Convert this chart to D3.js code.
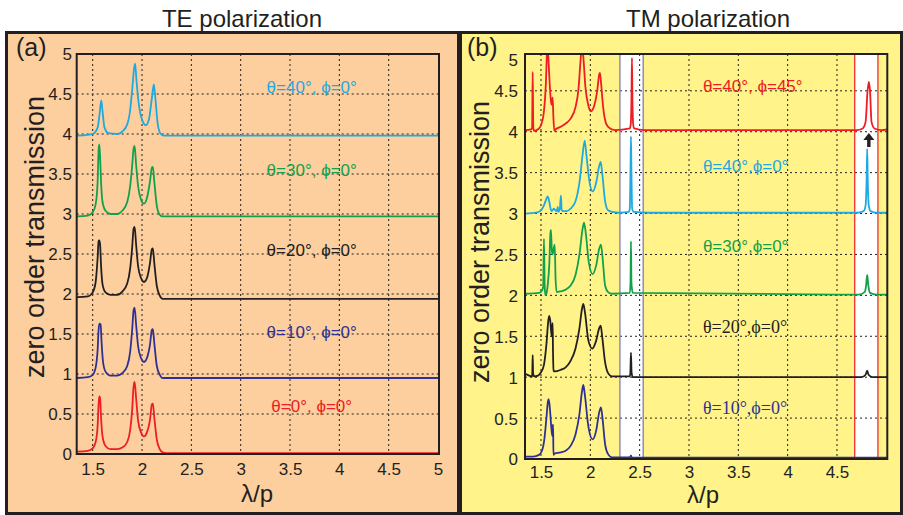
<!DOCTYPE html>
<html><head><meta charset="utf-8">
<script src="https://cdn.jsdelivr.net/npm/d3@7"></script>
<style>
body{margin:0;background:#fff}
</style>
</head><body>
<svg id="c" width="903" height="515" font-family="Liberation Sans, Arial, Helvetica, sans-serif"></svg>
<script>
// ---------------- DATA ----------------
const panelTitles = ["TE polarization", "TM polarization"];
const panelTags = ["(a)", "(b)"];
const xTicksA = [1.5, 2, 2.5, 3, 3.5, 4, 4.5, 5];
const xTicksB = [1.5, 2, 2.5, 3, 3.5, 4, 4.5];
const yTicks = [0, 0.5, 1, 1.5, 2, 2.5, 3, 3.5, 4, 4.5, 5];
const xLabel = "λ/p";
const yLabel = "zero order transmission";

// TE polarization (panel a)
const teLabels = ["θ=40°, ϕ=0°", "θ=30°, ϕ=0°", "θ=20°, ϕ=0°", "θ=10°, ϕ=0°", "θ=0°, ϕ=0°"];
const te40 = [[1.34,3.98],[1.45,3.99],[1.50,4.00],[1.55,4.08],[1.57,4.25],[1.587,4.42],[1.60,4.28],[1.62,4.08],[1.66,4.01],[1.75,4.00],[1.80,4.03],[1.85,4.12],[1.88,4.30],[1.90,4.55],[1.92,4.82],[1.93,4.88],[1.945,4.65],[1.97,4.35],[2.00,4.18],[2.04,4.11],[2.07,4.18],[2.10,4.45],[2.12,4.62],[2.135,4.45],[2.16,4.12],[2.19,4.00],[2.22,3.98],[5.0,3.98]];
const te30 = [[1.34,2.97],[1.45,2.98],[1.50,3.02],[1.53,3.12],[1.55,3.40],[1.56,3.80],[1.567,3.87],[1.575,3.72],[1.585,3.40],[1.60,3.15],[1.63,3.04],[1.68,3.00],[1.75,3.00],[1.80,3.04],[1.85,3.15],[1.88,3.35],[1.90,3.60],[1.915,3.82],[1.925,3.85],[1.94,3.62],[1.96,3.35],[1.99,3.18],[2.02,3.13],[2.05,3.20],[2.08,3.40],[2.10,3.58],[2.11,3.59],[2.125,3.40],[2.15,3.10],[2.18,2.99],[2.21,2.97],[5.0,2.97]];
const te20 = [[1.34,1.96],[1.45,1.97],[1.50,2.02],[1.53,2.15],[1.55,2.45],[1.56,2.66],[1.567,2.67],[1.575,2.62],[1.585,2.35],[1.60,2.12],[1.63,2.02],[1.68,1.99],[1.75,1.99],[1.80,2.03],[1.85,2.13],[1.88,2.32],[1.90,2.58],[1.915,2.82],[1.925,2.84],[1.94,2.62],[1.96,2.35],[1.99,2.20],[2.02,2.15],[2.05,2.20],[2.08,2.38],[2.10,2.56],[2.11,2.57],[2.125,2.38],[2.15,2.10],[2.18,1.98],[2.21,1.94],[5.0,1.94]];
const te10 = [[1.34,0.95],[1.45,0.96],[1.50,0.99],[1.53,1.08],[1.55,1.30],[1.56,1.55],[1.567,1.63],[1.58,1.62],[1.59,1.40],[1.605,1.15],[1.63,1.03],[1.68,0.98],[1.75,0.98],[1.80,1.01],[1.85,1.10],[1.88,1.28],[1.90,1.55],[1.915,1.80],[1.925,1.83],[1.94,1.62],[1.96,1.35],[1.99,1.20],[2.02,1.15],[2.05,1.20],[2.08,1.36],[2.10,1.55],[2.11,1.56],[2.125,1.38],[2.15,1.10],[2.18,0.99],[2.21,0.95],[5.0,0.95]];
const te0 = [[1.34,0.03],[1.45,0.04],[1.50,0.07],[1.53,0.15],[1.55,0.35],[1.56,0.62],[1.567,0.72],[1.575,0.70],[1.585,0.45],[1.60,0.22],[1.63,0.10],[1.68,0.06],[1.75,0.06],[1.80,0.08],[1.85,0.15],[1.88,0.30],[1.90,0.55],[1.915,0.85],[1.925,0.90],[1.94,0.70],[1.96,0.42],[1.99,0.27],[2.02,0.22],[2.05,0.27],[2.08,0.42],[2.10,0.62],[2.11,0.63],[2.125,0.45],[2.15,0.18],[2.18,0.06],[2.21,0.02],[2.25,0.01],[5.0,0.01]];

// TM polarization (panel b)
const tmLabels = ["θ=40°, ϕ=45°", "θ=40°,ϕ=0°", "θ=30°,ϕ=0°", "θ=20°,ϕ=0°", "θ=10°,ϕ=0°"];
const tm40p45 = [[1.34,4.02],[1.40,4.03],[1.41,4.05],[1.416,4.73],[1.422,4.05],[1.43,4.01],[1.47,4.03],[1.50,4.08],[1.53,4.25],[1.55,4.60],[1.562,5.0],[1.568,5.05],[1.575,4.90],[1.59,4.55],[1.605,4.33],[1.612,4.38],[1.618,4.42],[1.625,4.20],[1.635,4.01],[1.65,4.03],[1.70,4.06],[1.75,4.10],[1.80,4.16],[1.85,4.30],[1.88,4.52],[1.90,4.85],[1.915,5.05],[1.93,4.90],[1.95,4.55],[1.98,4.32],[2.006,4.25],[2.04,4.32],[2.07,4.50],[2.09,4.70],[2.098,4.72],[2.11,4.58],[2.13,4.30],[2.16,4.10],[2.20,4.04],[2.25,4.02],[2.40,4.04],[2.41,4.10],[2.417,4.40],[2.422,4.90],[2.427,4.40],[2.434,4.10],[2.445,4.04],[2.55,4.02],[4.70,4.02],[4.76,4.04],[4.79,4.12],[4.81,4.50],[4.823,4.61],[4.835,4.50],[4.85,4.12],[4.88,4.04],[4.95,4.02],[5.01,4.03]];
const tm40 = [[1.34,3.00],[1.45,3.01],[1.50,3.04],[1.53,3.10],[1.555,3.18],[1.568,3.21],[1.58,3.17],[1.60,3.05],[1.61,3.03],[1.63,3.06],[1.645,3.04],[1.66,3.03],[1.67,3.08],[1.675,3.02],[1.69,3.05],[1.697,3.15],[1.703,3.22],[1.709,3.05],[1.72,3.03],[1.76,3.03],[1.80,3.06],[1.85,3.15],[1.89,3.38],[1.92,3.70],[1.943,3.89],[1.96,3.72],[1.99,3.40],[2.024,3.27],[2.06,3.38],[2.09,3.58],[2.105,3.63],[2.12,3.50],[2.15,3.15],[2.18,3.04],[2.22,3.02],[2.30,3.01],[2.39,3.02],[2.40,3.06],[2.407,3.50],[2.412,3.94],[2.417,3.50],[2.424,3.06],[2.44,3.02],[2.60,3.01],[4.70,3.01],[4.77,3.03],[4.79,3.10],[4.80,3.40],[4.806,3.79],[4.812,3.40],[4.822,3.10],[4.84,3.03],[4.90,3.01],[5.01,3.01]];
const tm30 = [[1.34,2.02],[1.48,2.03],[1.51,2.06],[1.522,2.10],[1.53,2.69],[1.538,2.10],[1.545,2.00],[1.555,2.02],[1.57,2.15],[1.585,2.40],[1.595,2.75],[1.601,2.80],[1.61,2.55],[1.618,2.50],[1.63,2.58],[1.639,2.62],[1.648,2.20],[1.659,2.04],[1.70,2.05],[1.75,2.07],[1.80,2.12],[1.85,2.25],[1.89,2.50],[1.92,2.80],[1.936,2.89],[1.955,2.75],[1.985,2.40],[2.024,2.26],[2.06,2.37],[2.09,2.57],[2.108,2.62],[2.125,2.45],[2.15,2.12],[2.18,2.04],[2.22,2.02],[2.40,2.03],[2.407,2.15],[2.412,2.66],[2.417,2.15],[2.43,2.03],[4.72,2.01],[4.78,2.04],[4.795,2.12],[4.806,2.25],[4.818,2.12],[4.835,2.03],[4.90,2.01],[5.01,2.01]];
const tm20 = [[1.34,1.04],[1.38,1.02],[1.41,1.01],[1.412,1.05],[1.416,1.27],[1.42,1.05],[1.43,1.01],[1.47,1.02],[1.50,1.06],[1.53,1.15],[1.555,1.40],[1.575,1.70],[1.584,1.75],[1.595,1.68],[1.608,1.50],[1.614,1.60],[1.618,1.66],[1.622,1.30],[1.628,1.08],[1.64,1.07],[1.70,1.09],[1.75,1.12],[1.80,1.20],[1.85,1.35],[1.89,1.60],[1.915,1.83],[1.929,1.895],[1.945,1.80],[1.98,1.45],[2.02,1.35],[2.06,1.45],[2.09,1.60],[2.105,1.63],[2.12,1.50],[2.15,1.18],[2.18,1.05],[2.22,1.01],[2.40,1.01],[2.406,1.06],[2.412,1.30],[2.418,1.06],[2.43,1.00],[4.75,1.00],[4.79,1.03],[4.806,1.08],[4.82,1.03],[4.86,1.00],[5.01,1.00]];
const tm10 = [[1.34,0.03],[1.42,0.03],[1.48,0.05],[1.51,0.10],[1.535,0.25],[1.555,0.50],[1.57,0.70],[1.578,0.73],[1.59,0.62],[1.605,0.38],[1.615,0.28],[1.62,0.40],[1.623,0.42],[1.626,0.05],[1.64,0.07],[1.70,0.08],[1.75,0.10],[1.80,0.16],[1.85,0.30],[1.89,0.55],[1.915,0.82],[1.929,0.905],[1.945,0.78],[1.98,0.40],[2.024,0.24],[2.06,0.35],[2.09,0.57],[2.108,0.63],[2.125,0.48],[2.15,0.18],[2.18,0.06],[2.22,0.02],[2.40,0.02],[2.412,0.04],[2.42,0.02],[5.01,0.015]];

// highlighted wavelength windows in panel b
const bandBlue = [2.30, 2.536];
const bandRed = [4.68, 4.915];

// ---------------- DRAWING ----------------
const C = {red:"#ee1c24", cyan:"#1fa9e1", green:"#12a14b", black:"#231f20", blue:"#2e3192"};
const SANS = "Liberation Sans, Arial, Helvetica, sans-serif";
const SERIF = "Liberation Serif, Times New Roman, serif";
const svg = d3.select("#c");

// panel backgrounds and frame
svg.append("rect").attr("x",7).attr("y",33).attr("width",452).attr("height",480).attr("fill","#fdcf9e");
svg.append("rect").attr("x",460).attr("y",33).attr("width",441).attr("height",480).attr("fill","#fff38a");
svg.append("rect").attr("x",6.5).attr("y",32.5).attr("width",895).attr("height",481)
  .attr("fill","none").attr("stroke","#231f20").attr("stroke-width",3);
svg.append("line").attr("x1",459.5).attr("x2",459.5).attr("y1",32).attr("y2",514)
  .attr("stroke","#231f20").attr("stroke-width",5);

function panel(cfg){
  const g = svg.append("g");
  const x = d3.scaleLinear().domain([1.338, 5.01]).range([cfg.left, cfg.right]);
  const y = d3.scaleLinear().domain([0, cfg.yMax]).range([cfg.bottom, cfg.top]);
  const clipId = "clip" + cfg.id;
  svg.append("clipPath").attr("id", clipId).append("rect")
    .attr("x", cfg.left).attr("y", cfg.top).attr("width", cfg.right-cfg.left).attr("height", cfg.bottom-cfg.top);

  // bands
  (cfg.bands||[]).forEach(b=>{
    g.append("rect").attr("x", x(b.r[0])).attr("y", cfg.top).attr("width", x(b.r[1])-x(b.r[0]))
      .attr("height", cfg.bottom-cfg.top).attr("fill","#ffffff");
  });

  // grid
  const gridV = cfg.xTicks.filter(t=>t<5);
  g.selectAll(".gv").data(gridV).join("line")
    .attr("x1",d=>x(d)).attr("x2",d=>x(d)).attr("y1",cfg.top).attr("y2",cfg.bottom)
    .attr("stroke","#231f20").attr("stroke-width",1).attr("stroke-dasharray","2,3");
  const gridH = yTicks.filter(t=>t>0 && t<5);
  g.selectAll(".gh").data(gridH).join("line")
    .attr("y1",d=>y(d)).attr("y2",d=>y(d)).attr("x1",cfg.left).attr("x2",cfg.right)
    .attr("stroke","#231f20").attr("stroke-width",1).attr("stroke-dasharray","2,3");

  (cfg.bands||[]).forEach(b=>{
    [b.r[0], b.r[1]].forEach(v=>{
      g.append("line").attr("x1",x(v)).attr("x2",x(v)).attr("y1",cfg.top).attr("y2",cfg.bottom)
        .attr("stroke", b.stroke).attr("stroke-width", b.w);
    });
  });

  // curves
  const line = d3.line().x(d=>x(d[0])).y(d=>y(d[1])).curve(d3.curveMonotoneX);
  const cg = g.append("g").attr("clip-path", `url(#${clipId})`);
  cfg.series.forEach(s=>{
    cg.append("path").datum(s.data).attr("d", line).attr("fill","none")
      .attr("stroke", s.color).attr("stroke-width", 1.8).attr("stroke-linejoin","round");
  });

  // axes box
  g.append("rect").attr("x",cfg.left).attr("y",cfg.top).attr("width",cfg.right-cfg.left)
    .attr("height",cfg.bottom-cfg.top).attr("fill","none").attr("stroke","#231f20").attr("stroke-width",2);

  // axis tick labels
  const xa = d3.axisBottom(x).tickValues(cfg.xTicks).tickSize(0).tickPadding(0).tickFormat(d=>String(d));
  const gx = g.append("g").attr("transform",`translate(0,${cfg.bottom})`).call(xa);
  gx.select(".domain").remove();
  gx.attr("font-family", SANS).attr("font-size", 17);
  gx.selectAll("text").attr("dy",null).attr("y", cfg.xLabY).attr("fill","#231f20");

  const ya = d3.axisLeft(y).tickValues(cfg.yTickVals).tickSize(0).tickPadding(0).tickFormat(d=>String(d));
  const gy = g.append("g").attr("transform",`translate(${cfg.yLabX},0)`).call(ya);
  gy.select(".domain").remove();
  gy.attr("font-family", SANS).attr("font-size", 17);
  gy.selectAll("text").attr("dy","0.35em").attr("fill","#231f20");
  if (cfg.topLabel) {
    g.append("text").attr("x", cfg.yLabX).attr("y", cfg.top + 12).attr("text-anchor","end")
      .attr("font-size",17).attr("fill","#231f20").text(cfg.topLabel);
  }

  // axis titles
  g.append("text").attr("x", cfg.xTitleX).attr("y", cfg.xTitleY).attr("text-anchor","middle")
    .attr("font-size",24).attr("fill","#231f20").text(xLabel);
  g.append("text").attr("transform",`translate(${cfg.yTitleX},${cfg.yTitleY}) rotate(-90)`)
    .attr("text-anchor","middle").attr("font-size",27).attr("fill","#231f20").text(yLabel);

  // tag + panel title
  g.append("text").attr("x",cfg.tagX).attr("y",56).attr("font-size",25).attr("fill","#231f20").text(cfg.tag);
  g.append("text").attr("x",cfg.titleX).attr("y",27).attr("text-anchor","middle").attr("font-size",24)
    .attr("fill","#231f20").text(cfg.title);

  // curve labels
  cfg.labels.forEach(l=>{
    g.append("text").attr("x", x(l.x)).attr("y", y(l.y)).attr("text-anchor", l.anchor)
      .attr("font-size", l.serif ? 18 : 17).attr("fill", l.color)
      .attr("font-family", l.serif ? SERIF : SANS)
      .text(l.text);
  });
  return {x, y, g};
}

panel({
  id:"a", left:76.7, right:439, top:54, bottom:454, yMax:5,
  xTicks:xTicksA, yTickVals:yTicks, xLabY:21, yLabX:72,
  xTitleX:257, xTitleY:502, yTitleX:44, yTitleY:237,
  tag:panelTags[0], tagX:16, title:panelTitles[0], titleX:242,
  series:[{data:te0,color:C.red},{data:te10,color:C.blue},{data:te20,color:C.black},{data:te30,color:C.green},{data:te40,color:C.cyan}],
  labels:[
    {text:teLabels[0], x:3.72, y:4.51, color:C.cyan, anchor:"middle"},
    {text:teLabels[1], x:3.72, y:3.47, color:C.green, anchor:"middle"},
    {text:teLabels[2], x:3.72, y:2.48, color:C.black, anchor:"middle"},
    {text:teLabels[3], x:3.72, y:1.45, color:C.blue, anchor:"middle"},
    {text:teLabels[4], x:3.72, y:0.52, color:C.red, anchor:"middle"}
  ]
});

const pb = panel({
  id:"b", left:525, right:887.3, top:54, bottom:459, yMax:4.95,
  xTicks:xTicksB, yTickVals:yTicks.filter(t=>t<5), topLabel:"5", xLabY:19, yLabX:518,
  xTitleX:703, xTitleY:503, yTitleX:489, yTitleY:242,
  tag:panelTags[1], tagX:467, title:panelTitles[1], titleX:708,
  bands:[{r:bandBlue, stroke:"#8a8cc4", w:1.5},{r:bandRed, stroke:"#ee1c24", w:1.2}],
  series:[{data:tm10,color:C.blue},{data:tm20,color:C.black},{data:tm30,color:C.green},{data:tm40,color:C.cyan},{data:tm40p45,color:C.red}],
  labels:[
    {text:tmLabels[0], x:3.141, y:4.49, color:C.red, anchor:"start"},
    {text:tmLabels[1], x:3.141, y:3.51, color:C.cyan, anchor:"start"},
    {text:tmLabels[2], x:3.141, y:2.53, color:C.green, anchor:"start"},
    {text:tmLabels[3], x:3.141, y:1.54, color:C.black, anchor:"start", serif:true},
    {text:tmLabels[4], x:3.141, y:0.55, color:C.blue, anchor:"start", serif:true}
  ]
});

// arrow pointing to the θ=40°, ϕ=45° peak
const ax = pb.x(4.823);
const ay = pb.y(4.02);
svg.append("path")
  .attr("d", `M${ax},${ay+3} L${ax-5.5},${ay+10} L${ax-1.7},${ay+10} L${ax-1.7},${ay+17} L${ax+1.7},${ay+17} L${ax+1.7},${ay+10} L${ax+5.5},${ay+10} Z`)
  .attr("fill","#231f20");
</script>
</body></html>
